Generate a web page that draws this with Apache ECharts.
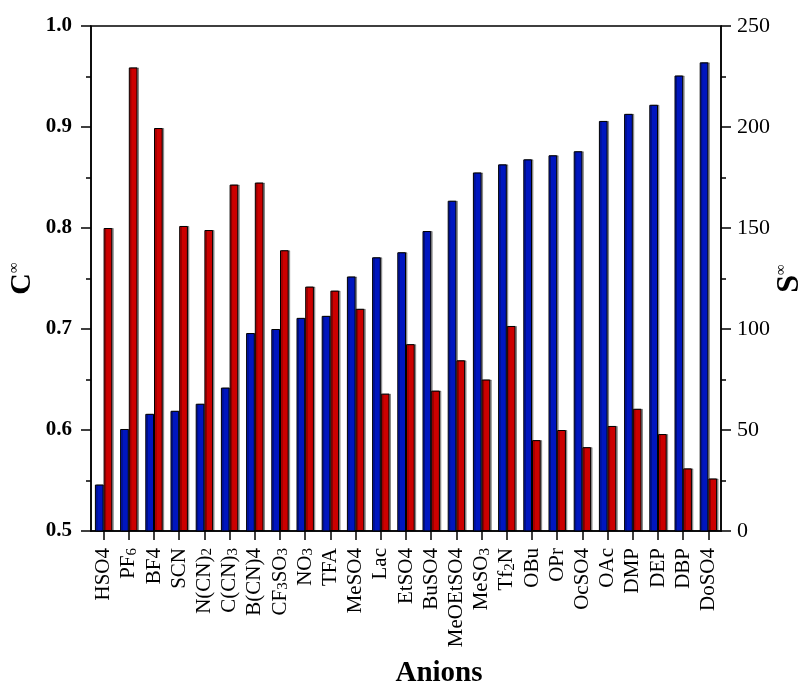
<!DOCTYPE html>
<html>
<head>
<meta charset="utf-8">
<script src="https://cdn.jsdelivr.net/npm/echarts@6/dist/echarts.min.js"></script>
<style>
  html, body { margin: 0; padding: 0; background: #fff; }
  #chart { width: 807px; height: 686px; }
</style>
</head>
<body>
<div id="chart"></div>
<script>
// Anions, ordered by increasing C∞
const anions = ['HSO4', 'PF6', 'BF4', 'SCN', 'N(CN)2', 'C(CN)3', 'B(CN)4', 'CF3SO3',
  'NO3', 'TFA', 'MeSO4', 'Lac', 'EtSO4', 'BuSO4', 'MeOEtSO4', 'MeSO3', 'Tf2N',
  'OBu', 'OPr', 'OcSO4', 'OAc', 'DMP', 'DEP', 'DBP', 'DoSO4'];

// C∞ (left axis)
const cInf = [0.546, 0.601, 0.616, 0.619, 0.626, 0.642, 0.696, 0.700,
  0.711, 0.713, 0.752, 0.771, 0.776, 0.797, 0.827, 0.855, 0.863,
  0.868, 0.872, 0.876, 0.906, 0.913, 0.922, 0.951, 0.964];

// S∞ (right axis)
const sInf = [150, 229.5, 199.5, 151, 149, 171.5, 172.5, 139,
  121, 119, 110, 68, 92.5, 69.5, 84.5, 75, 101.5,
  45, 50, 41.5, 52, 60.5, 48, 31, 26];

const leftTicks = { min: 0.5, max: 1.0, step: 0.1 };
const rightTicks = { min: 0, max: 250, step: 50 };

const serif = "'Liberation Serif', 'Times New Roman', serif";
const chart = echarts.init(document.getElementById('chart'), null, { renderer: 'canvas' });

const barStyle = (color) => ({
  color: color,
  borderColor: '#000',
  borderWidth: 1,
  shadowColor: 'rgba(0,0,0,0.35)',
  shadowOffsetX: 1.5,
  shadowOffsetY: 0,
  shadowBlur: 0
});

const axisLine = { show: true, lineStyle: { color: '#000', width: 1.5 } };

chart.setOption({
  animation: false,
  backgroundColor: '#fff',
  grid: {
    left: 91, right: 86, top: 26, bottom: 155,
    containLabel: false,
    outerBoundsMode: 'none',
    show: true, borderColor: '#000', borderWidth: 1.5, backgroundColor: 'transparent'
  },
  xAxis: {
    type: 'category',
    data: anions,
    axisLine: axisLine,
    axisTick: { show: true, alignWithLabel: true, length: 9, lineStyle: { color: '#000', width: 1.5 } },
    axisLabel: {
      rotate: 90,
      margin: 17,
      interval: 0,
      fontFamily: serif,
      fontSize: 21,
      color: '#000',
      // small digits for subscripts
      formatter: (v) => v.replace(/[0-9]/g, (d) => d === '4' ? d : '{s|' + d + '}'),
      rich: {
        s: { fontFamily: serif, fontSize: 15, color: '#000', verticalAlign: 'bottom' }
      }
    },
    name: 'Anions',
    nameLocation: 'middle',
    nameGap: 128,
    nameMoveOverlap: false,
    nameTextStyle: { fontFamily: serif, fontSize: 29, fontWeight: 'bold', color: '#000', padding: [0, 0, 0, 66] }
  },
  yAxis: [
    {
      type: 'value',
      min: leftTicks.min, max: leftTicks.max, interval: leftTicks.step,
      position: 'left',
      axisLine: axisLine,
      axisTick: { show: true, length: 10, lineStyle: { color: '#000', width: 1.5 } },
      minorTick: { show: true, splitNumber: 2, length: 5, lineStyle: { color: '#000', width: 1.5 } },
      splitLine: { show: false },
      axisLabel: {
        margin: 19,
        fontFamily: serif, fontSize: 21, fontWeight: 'bold', color: '#000',
        formatter: (v) => v.toFixed(1)
      },
      name: '{c|C}{sup|∞}',
      nameLocation: 'middle',
      nameGap: 54,
      nameMoveOverlap: false,
      nameTextStyle: {
        rich: {
          c: { fontFamily: serif, fontSize: 30, fontWeight: 'bold', color: '#000' },
          sup: { fontFamily: serif, fontSize: 15, color: '#000', verticalAlign: 'top' }
        }
      }
    },
    {
      type: 'value',
      min: rightTicks.min, max: rightTicks.max, interval: rightTicks.step,
      position: 'right',
      axisLine: axisLine,
      axisTick: { show: true, length: 10, lineStyle: { color: '#000', width: 1.5 } },
      minorTick: { show: true, splitNumber: 2, length: 5, lineStyle: { color: '#000', width: 1.5 } },
      splitLine: { show: false },
      axisLabel: {
        margin: 16,
        fontFamily: serif, fontSize: 22, color: '#000'
      },
      name: '{c|S}{sup|∞}',
      nameLocation: 'middle',
      nameGap: 53,
      nameRotate: 90,
      nameMoveOverlap: false,
      nameTextStyle: {
        rich: {
          c: { fontFamily: serif, fontSize: 32, fontWeight: 'bold', color: '#000' },
          sup: { fontFamily: serif, fontSize: 15, color: '#000', verticalAlign: 'top' }
        }
      }
    }
  ],
  series: [
    {
      name: 'C∞',
      type: 'bar',
      yAxisIndex: 0,
      data: cInf,
      barWidth: 8.7,
      barGap: '0%',
      itemStyle: barStyle('#0016bf')
    },
    {
      name: 'S∞',
      type: 'bar',
      yAxisIndex: 1,
      data: sInf,
      barWidth: 8.7,
      barGap: '0%',
      itemStyle: barStyle('#cc0000')
    }
  ]
});
</script>
</body>
</html>
